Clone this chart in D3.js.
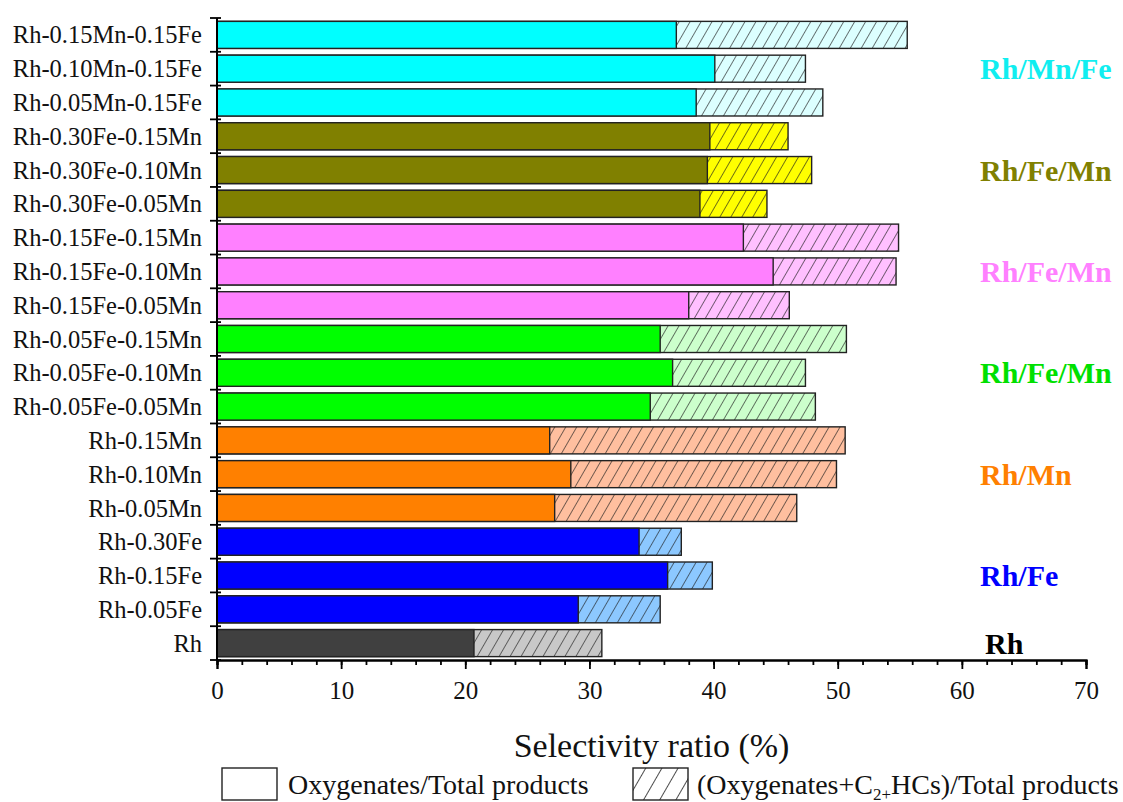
<!DOCTYPE html>
<html>
<head>
<meta charset="utf-8">
<script src="https://cdn.jsdelivr.net/npm/d3@7"></script>
<style>
  body { margin: 0; background: #fff; }
  svg text { font-family: "Liberation Serif", "Times New Roman", serif; }
</style>
</head>
<body>
<div id="chart"></div>
<script>
// samples, top to bottom
var samples = ["Rh-0.15Mn-0.15Fe", "Rh-0.10Mn-0.15Fe", "Rh-0.05Mn-0.15Fe",
  "Rh-0.30Fe-0.15Mn", "Rh-0.30Fe-0.10Mn", "Rh-0.30Fe-0.05Mn",
  "Rh-0.15Fe-0.15Mn", "Rh-0.15Fe-0.10Mn", "Rh-0.15Fe-0.05Mn",
  "Rh-0.05Fe-0.15Mn", "Rh-0.05Fe-0.10Mn", "Rh-0.05Fe-0.05Mn",
  "Rh-0.15Mn", "Rh-0.10Mn", "Rh-0.05Mn",
  "Rh-0.30Fe", "Rh-0.15Fe", "Rh-0.05Fe", "Rh"];
// Oxygenates/Total products (%)
var oxygenates = [37.0, 40.1, 38.6, 39.7, 39.5, 38.9, 42.4, 44.8, 38.0,
  35.7, 36.7, 34.9, 26.8, 28.5, 27.2, 34.0, 36.3, 29.1, 20.7];
// (Oxygenates+C2+HCs)/Total products (%)
var totals = [55.6, 47.4, 48.8, 46.0, 47.9, 44.3, 54.9, 54.7, 46.1,
  50.7, 47.4, 48.2, 50.6, 49.9, 46.7, 37.4, 39.9, 35.7, 31.0];
var groupOf = [0,0,0, 1,1,1, 2,2,2, 3,3,3, 4,4,4, 5,5,5, 6];
var groupNames = ["Rh/Mn/Fe", "Rh/Fe/Mn", "Rh/Fe/Mn", "Rh/Fe/Mn", "Rh/Mn", "Rh/Fe", "Rh"];
var solidColors = ["#00ffff", "#808000", "#ff80ff", "#00ff00", "#ff8000", "#0000ff", "#404040"];
var hatchColors = ["#dcffff", "#ffff00", "#ffc0ff", "#ccffcc", "#ffbf9f", "#8cc8ff", "#c8c8c8"];
var labelColors = ["#10eef0", "#808000", "#ff80ff", "#00e000", "#ff8000", "#0000ff", "#000000"];
var xTicks = [0, 10, 20, 30, 40, 50, 60, 70];

var width = 1123, height = 802;
var svg = d3.select("#chart").append("svg")
  .attr("width", width).attr("height", height);

var x = d3.scaleLinear().domain([0, 70]).range([217, 1086]);
var y = d3.scaleBand().domain(samples).range([18, 660]).paddingInner(0.2).paddingOuter(0.1);

var defs = svg.append("defs");
hatchColors.forEach(function(c, i) {
  var p = defs.append("pattern")
    .attr("id", "hatch" + i)
    .attr("patternUnits", "userSpaceOnUse")
    .attr("width", 9.5).attr("height", 9.5)
    .attr("patternTransform", "rotate(30)");
  p.append("rect").attr("width", 9.5).attr("height", 9.5).attr("fill", c);
  p.append("line").attr("x1", 0).attr("y1", 0).attr("x2", 0).attr("y2", 9.5)
    .attr("stroke", "#1a1a1a").attr("stroke-width", 1.2);
});
var lp = defs.append("pattern")
  .attr("id", "hatchLegend")
  .attr("patternUnits", "userSpaceOnUse")
  .attr("width", 14).attr("height", 14)
  .attr("patternTransform", "translate(636,0) rotate(30)");
lp.append("rect").attr("width", 14).attr("height", 14).attr("fill", "#fff");
lp.append("line").attr("x1", 0).attr("y1", 0).attr("x2", 0).attr("y2", 14)
  .attr("stroke", "#111").attr("stroke-width", 1.5);

// bars: hatched total behind, solid oxygenates on top
var rows = svg.append("g").selectAll("g")
  .data(samples)
  .enter().append("g");

rows.append("rect")
  .attr("x", x(0))
  .attr("y", function(d) { return y(d); })
  .attr("width", function(d, i) { return x(totals[i]) - x(0); })
  .attr("height", y.bandwidth())
  .attr("fill", function(d, i) { return "url(#hatch" + groupOf[i] + ")"; })
  .attr("stroke", "#222").attr("stroke-width", 1.4);

rows.append("rect")
  .attr("x", x(0))
  .attr("y", function(d) { return y(d); })
  .attr("width", function(d, i) { return x(oxygenates[i]) - x(0); })
  .attr("height", y.bandwidth())
  .attr("fill", function(d, i) { return solidColors[groupOf[i]]; })
  .attr("stroke", "#222").attr("stroke-width", 1.4);

// y axis
var yAxis = svg.append("g");
yAxis.append("line")
  .attr("x1", x(0)).attr("x2", x(0)).attr("y1", 18).attr("y2", 660)
  .attr("stroke", "#000").attr("stroke-width", 2);
var step = y.step();
d3.range(samples.length + 1).forEach(function(k) {
  var yy = 18 + k * step;
  yAxis.append("line")
    .attr("x1", x(0) - 7).attr("x2", x(0) + 4).attr("y1", yy).attr("y2", yy)
    .attr("stroke", "#000").attr("stroke-width", 1.8);
});
yAxis.selectAll("text.ylab")
  .data(samples)
  .enter().append("text")
  .attr("class", "ylab")
  .attr("x", x(0) - 15)
  .attr("y", function(d) { return y(d) + y.bandwidth() / 2; })
  .attr("dy", "0.35em")
  .attr("text-anchor", "end")
  .attr("font-size", 24.5)
  .attr("fill", "#111")
  .text(function(d) { return d; });

// x axis
var xAxis = svg.append("g").attr("transform", "translate(0,660)");
xAxis.call(d3.axisBottom(x).tickValues(d3.range(0, 71, 2)).tickSize(5).tickFormat(""));
xAxis.append("g").call(d3.axisBottom(x).tickValues(xTicks).tickSize(9).tickPadding(12));
xAxis.selectAll(".domain").attr("stroke", "#000").attr("stroke-width", 2);
xAxis.selectAll(".tick line").attr("stroke", "#000").attr("stroke-width", 1.8);
xAxis.selectAll(".tick text")
  .attr("font-family", "Liberation Serif, serif")
  .attr("font-size", 25).attr("fill", "#111");

svg.append("text")
  .attr("x", (x(0) + x(70)) / 2)
  .attr("y", 757)
  .attr("text-anchor", "middle")
  .attr("font-size", 34)
  .attr("fill", "#111")
  .text("Selectivity ratio (%)");

// group labels
d3.range(groupNames.length).forEach(function(g) {
  var idx = samples.filter(function(s, i) { return groupOf[i] === g; });
  var mid = idx[Math.floor(idx.length / 2)];
  svg.append("text")
    .attr("x", g === 6 ? 985 : 980)
    .attr("y", y(mid) + y.bandwidth() / 2)
    .attr("dy", "0.35em")
    .attr("font-size", 30)
    .attr("font-weight", "bold")
    .attr("fill", labelColors[g])
    .text(groupNames[g]);
});

// legend
var legend = svg.append("g");
legend.append("rect")
  .attr("x", 222).attr("y", 768).attr("width", 55).attr("height", 32)
  .attr("fill", "#fff").attr("stroke", "#222").attr("stroke-width", 1.4);
legend.append("text")
  .attr("x", 288).attr("y", 794)
  .attr("font-size", 28).attr("fill", "#111")
  .text("Oxygenates/Total products");
legend.append("rect")
  .attr("x", 633).attr("y", 768).attr("width", 55).attr("height", 32)
  .attr("fill", "url(#hatchLegend)").attr("stroke", "#222").attr("stroke-width", 1.4);
var lt = legend.append("text")
  .attr("x", 697).attr("y", 794)
  .attr("font-size", 28).attr("fill", "#111");
lt.append("tspan").text("(Oxygenates+C");
lt.append("tspan").attr("font-size", 17).attr("dy", 6).text("2+");
lt.append("tspan").attr("dy", -6).text("HCs)/Total products");
</script>
</body>
</html>
